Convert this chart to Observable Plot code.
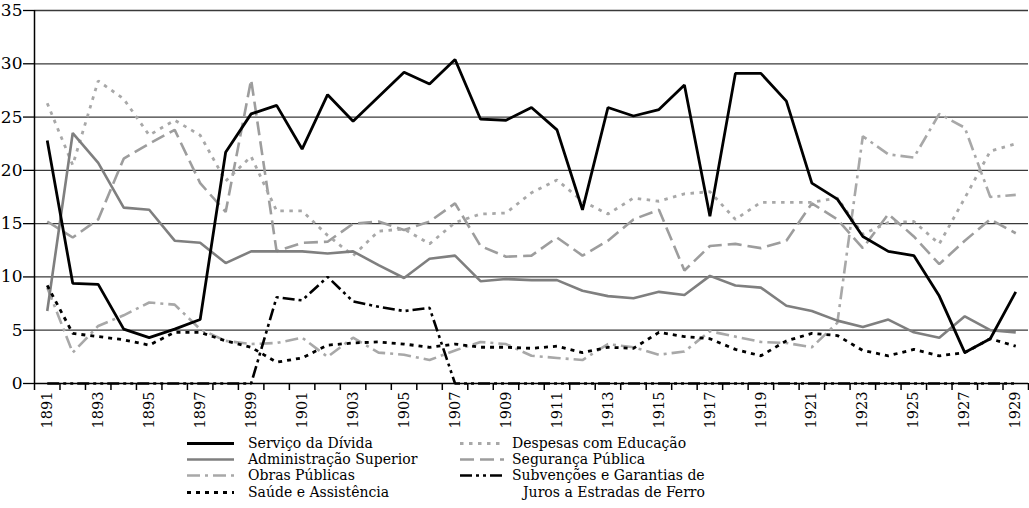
<!DOCTYPE html>
<html><head><meta charset="utf-8">
<script src="https://cdn.jsdelivr.net/npm/d3@7"></script>
<script src="https://cdn.jsdelivr.net/npm/@observablehq/plot@0.6"></script>
<style>
body{margin:0;background:#fff;font-family:"DejaVu Serif","Liberation Serif",serif;}
#wrap{position:relative;width:1029px;height:508px;overflow:hidden;}
.li{position:absolute;display:flex;align-items:center;font-size:14px;line-height:15px;color:#000;white-space:nowrap;height:15px;}
.li svg{display:block;}
</style></head><body><div id="wrap"><div id="chart"></div><div id="legend"></div></div>
<script>
const years = d3.range(1891, 1930);
const yTicks = [0, 5, 10, 15, 20, 25, 30, 35];
const labelYears = years.filter(y => y % 2 === 1);

const servicoDivida = [22.8,9.4,9.3,5.1,4.3,5.1,6.0,21.7,25.3,26.1, 22.0,27.1,24.6,26.9,29.2,28.1,30.4,24.8,24.7,25.9, 23.8,16.3,25.9,25.1,25.7,28.0,15.7,29.1,29.1,26.5, 18.8,17.3,13.8,12.4,12.0,8.2,2.9,4.2,8.6];
const adminSuperior = [6.8,23.5,20.7,16.5,16.3,13.4,13.2,11.3,12.4,12.4, 12.4,12.2,12.4,11.1,9.9,11.7,12.0,9.6,9.8,9.7, 9.7,8.7,8.2,8.0,8.6,8.3,10.1,9.2,9.0,7.3, 6.8,5.9,5.3,6.0,4.8,4.3,6.3,5.0,4.8];
const obrasPublicas = [9.0,2.9,5.4,6.4,7.6,7.4,5.1,4.0,3.7,3.8, 4.3,2.5,4.3,2.9,2.7,2.2,3.1,3.9,3.7,2.6, 2.4,2.2,3.7,3.4,2.7,3.0,4.9,4.4,3.9,3.8, 3.4,5.7,23.2,21.5,21.2,25.3,24.0,17.5,17.7];
const saudeAssistencia = [9.2,4.7,4.4,4.1,3.6,4.8,4.8,4.0,3.4,2.0, 2.4,3.6,3.8,3.9,3.7,3.4,3.7,3.4,3.4,3.3, 3.5,2.9,3.4,3.3,4.8,4.4,4.2,3.2,2.6,4.0, 4.7,4.5,3.1,2.6,3.2,2.6,2.9,4.2,3.5];
const despesasEducacao = [26.3,20.5,28.4,26.7,23.3,24.7,23.3,19.0,21.3,16.2, 16.2,13.9,12.0,14.3,14.5,13.1,15.1,15.9,16.0,17.9, 19.1,17.1,15.9,17.4,17.1,17.8,18.0,15.4,17.0,17.0, 17.0,17.4,14.0,15.1,15.2,13.1,17.4,21.8,22.5];
const segurancaPublica = [15.2,13.7,15.4,21.1,22.5,23.8,18.8,16.1,28.5,12.4, 13.2,13.3,15.0,15.2,14.4,15.2,16.9,12.9,11.9,12.0, 13.7,12.0,13.4,15.4,16.3,10.6,12.9,13.1,12.7,13.4, 16.9,15.4,12.7,15.9,13.8,11.2,13.4,15.4,14.1];
const subvencoesFerro = [0,0,0,0,0,0,0,0,0,8.1, 7.8,10.0,7.7,7.2,6.8,7.1,0,0,0,0, 0,0,0,0,0,0,0,0,0,0, 0,0,0,0,0,0,0,0,0];

const series = [
  {name: "Segurança Pública", values: segurancaPublica, stroke: "#9d9d9d", dash: "14,6", width: 2.6},
  {name: "Despesas com Educação", values: despesasEducacao, stroke: "#a8a8a8", dash: "3.5,5.5", width: 2.8},
  {name: "Obras Públicas", values: obrasPublicas, stroke: "#a8a8a8", dash: "13,5,3,5", width: 2.6},
  {name: "Administração Superior", values: adminSuperior, stroke: "#7f7f7f", dash: null, width: 2.6},
  {name: "Saúde e Assistência", values: saudeAssistencia, stroke: "#000", dash: "4,5", width: 2.8},
  {name: "Subvenções e Garantias de Juros a Estradas de Ferro", values: subvencoesFerro, stroke: "#000", dash: "12,4,3,4,3,4", width: 2.6},
  {name: "Serviço da Dívida", values: servicoDivida, stroke: "#000", dash: null, width: 2.8}
];

const boundaries = d3.range(1890.5, 1930, 1);
const FONT = "'DejaVu Serif', 'Liberation Serif', serif";

const chart = Plot.plot({
  width: 1029, height: 430,
  marginTop: 10, marginBottom: 47, marginLeft: 34, marginRight: 1,
  x: {domain: [1890.5, 1929.5]},
  y: {domain: [0, 35]},
  style: {fontFamily: FONT, fontSize: "15px", color: "#000", background: "#fff"},
  marks: [
    Plot.gridY(yTicks.filter(d => d > 0), {stroke: "#3a3a3a", strokeOpacity: 1, strokeWidth: 1.3}),
    Plot.axisY({ticks: yTicks, tickSize: 11, tickPadding: 1, fontSize: 17, tickFormat: d => String(d), label: null, strokeWidth: 1.3}),
    Plot.axisX({ticks: boundaries, tickSize: 7, tickFormat: () => "", label: null, strokeWidth: 1.5}),
    Plot.axisX({ticks: labelYears, tickSize: 0, tickPadding: 8, tickRotate: -90, fontSize: 14.5, tickFormat: d => String(d), label: null}),
    Plot.ruleX([1890.5], {stroke: "#000", strokeWidth: 1.5}),
    Plot.ruleY([0], {stroke: "#000", strokeWidth: 1.5}),
    ...series.map(s => Plot.line(years.map((y, i) => ({year: y, value: s.values[i]})), {
      x: "year", y: "value", stroke: s.stroke, strokeWidth: s.width,
      strokeDasharray: s.dash, strokeLinejoin: "miter", strokeLinecap: "butt"
    }))
  ]
});
document.getElementById("chart").appendChild(chart);

// legend
const legendItems = [
  {label: "Serviço da Dívida", s: "Serviço da Dívida", col: 0, row: 0},
  {label: "Administração Superior", s: "Administração Superior", col: 0, row: 1},
  {label: "Obras Públicas", s: "Obras Públicas", col: 0, row: 2},
  {label: "Saúde e Assistência", s: "Saúde e Assistência", col: 0, row: 3},
  {label: "Despesas com Educação", s: "Despesas com Educação", col: 1, row: 0},
  {label: "Segurança Pública", s: "Segurança Pública", col: 1, row: 1},
  {label: "Subvenções e Garantias de", s: "Subvenções e Garantias de Juros a Estradas de Ferro", col: 1, row: 2},
  {label: "Juros a Estradas de Ferro", s: null, col: 1, row: 3}
];
const colX = [187, 460];
const swW = [47, 44];
const rowY = [443, 459.5, 475.5, 492];
const legend = document.getElementById("legend");
legendItems.forEach(it => {
  const d = document.createElement("div");
  d.className = "li";
  d.style.top = (rowY[it.row] - 7.5) + "px";
  const s = series.find(x => x.name === it.s);
  if (s) {
    d.style.left = colX[it.col] + "px";
    const w = swW[it.col];
    d.innerHTML = `<svg width="${w}" height="15"><line x1="0" x2="${w}" y1="7.5" y2="7.5" stroke="${s.stroke}" stroke-width="${s.width}" ${s.dash ? `stroke-dasharray="${s.dash}"` : ""}/></svg><span style="margin-left:${it.col ? 8 : 14}px">${it.label}</span>`;
  } else {
    d.style.left = "523px";
    d.innerHTML = `<span>${it.label}</span>`;
  }
  legend.appendChild(d);
});
</script></body></html>
